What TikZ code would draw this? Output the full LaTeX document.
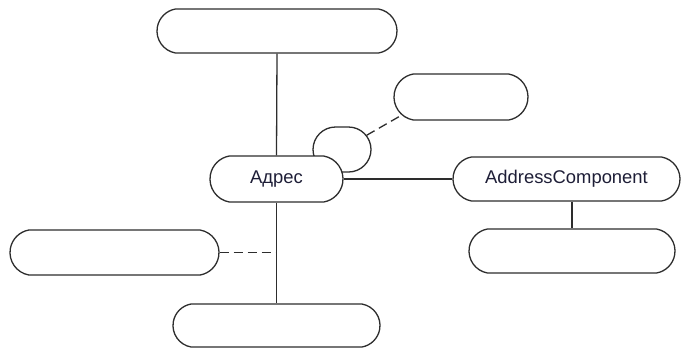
\documentclass[tikz,border=0pt]{standalone}
\usepackage{fontspec}
\usetikzlibrary{shapes.misc}
\setmainfont{Liberation Sans}
\definecolor{edge}{RGB}{45,45,45}
\definecolor{txt}{RGB}{30,30,55}
\begin{document}
\begin{tikzpicture}[x=1pt,y=1pt,
  box/.style={rounded rectangle,rounded rectangle arc length=160,draw=edge,line width=1.3pt,fill=white,inner sep=0pt,
    font=\fontsize{18.4}{22}\selectfont,text=txt},
  conn/.style={draw=edge,line width=1.3pt},
  dconn/.style={conn,dash pattern=on 9pt off 5pt}]
\useasboundingbox (0,0) rectangle (682,-349);
\node[box,minimum width=240pt,minimum height=44pt] (top) at (277,-31) {};
\node[box,minimum width=134pt,minimum height=46pt] (tr) at (461,-97) {};
\node[box,rounded rectangle arc length=180,minimum width=58pt,minimum height=45pt] (circ) at (342,-149.5) {};
\node[box,minimum width=133pt,minimum height=46pt] (addr) at (276.5,-179) {Адрес};
\node[box,minimum width=227pt,minimum height=44pt] (ac) at (566.5,-179) {AddressComponent};
\node[box,minimum width=206pt,minimum height=44pt] (br) at (572,-251) {};
\node[box,minimum width=209pt,minimum height=45pt] (left) at (114.5,-252.5) {};
\node[box,minimum width=207pt,minimum height=43pt] (bottom) at (276.5,-325.5) {};
\coordinate (j) at (addr.south |- left.east);
\draw[conn] (top.south) -- (addr.north);
\draw[dconn] (circ.30) -- (tr.197);
\draw[conn] (addr.east) -- (ac.west);
\draw[conn] (br.north |- ac.south) -- (br.north);
\draw[conn] (addr.south) -- (bottom.north);
\draw[dconn] (left.east) -- (j);
\end{tikzpicture}
\end{document}
